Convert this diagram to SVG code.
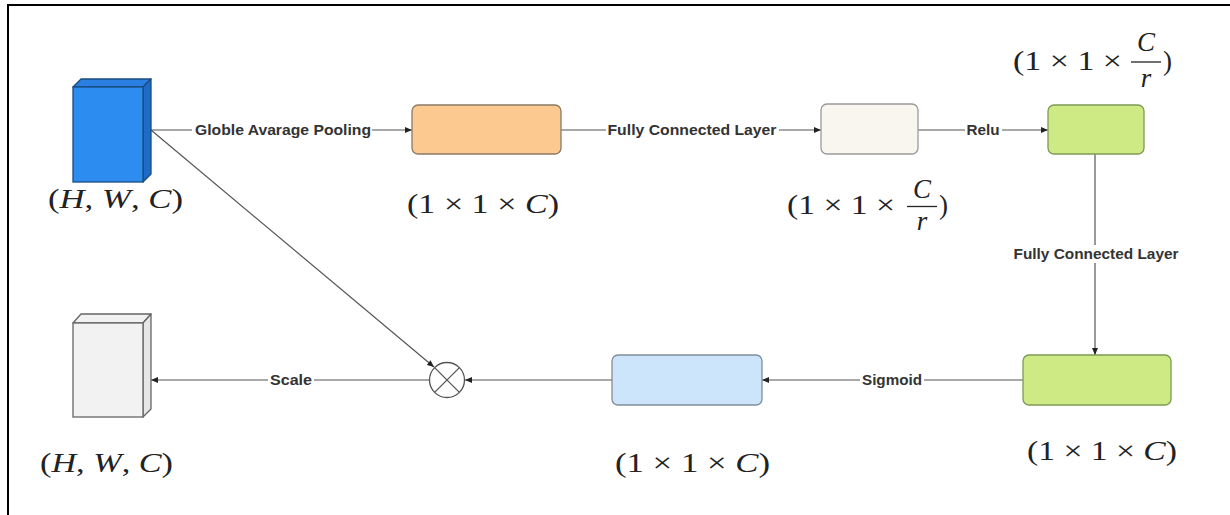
<svg xmlns="http://www.w3.org/2000/svg" width="1230" height="515" viewBox="0 0 1230 515">
<defs>
<marker id="arr" markerUnits="userSpaceOnUse" markerWidth="8" markerHeight="7" refX="7" refY="3.5" orient="auto">
<path d="M0,0.5 L7,3.5 L0,6.5 z" fill="#222"/>
</marker>
<style>
.edge{stroke:#555;stroke-width:1.2;fill:none}
.lbl{font-family:"Liberation Sans",Arial,sans-serif;font-weight:bold;font-size:14px;fill:#333;text-anchor:middle}
.lblbg{fill:#fff}
.math{font-family:"Liberation Serif","Times New Roman",serif;font-size:27px;fill:#222}
.it{font-style:italic}
.box{stroke-width:1.3}
</style>
</defs>
<rect x="0" y="0" width="1230" height="515" fill="#fff"/>
<g id="frame">
<line x1="7" y1="5" x2="1230" y2="5" stroke="#000" stroke-width="2"/>
<line x1="8" y1="4" x2="8" y2="515" stroke="#000" stroke-width="2"/>
</g>

<g id="connectors">
<line class="edge" x1="151" y1="130" x2="412" y2="130" marker-end="url(#arr)"/>
<line class="edge" x1="561" y1="130" x2="821" y2="130" marker-end="url(#arr)"/>
<line class="edge" x1="918" y1="130" x2="1048" y2="130" marker-end="url(#arr)"/>
<line class="edge" x1="1095" y1="154" x2="1095" y2="355" marker-end="url(#arr)"/>
<line class="edge" x1="1023" y1="380" x2="762" y2="380" marker-end="url(#arr)"/>
<line class="edge" x1="612" y1="380" x2="465" y2="380" marker-end="url(#arr)"/>
<line class="edge" x1="429" y1="380" x2="151" y2="380" marker-end="url(#arr)"/>
<line class="edge" x1="151" y1="130" x2="434" y2="367" marker-end="url(#arr)"/>
<g id="edge-labels">
<rect class="lblbg" x="192" y="121" width="180" height="18"/>
<text class="lbl" x="283" y="135" textLength="176" lengthAdjust="spacingAndGlyphs">Globle Avarage Pooling</text>
<rect class="lblbg" x="606" y="121" width="173" height="18"/>
<text class="lbl" x="692" y="135" textLength="169" lengthAdjust="spacingAndGlyphs">Fully Connected Layer</text>
<rect class="lblbg" x="965" y="121" width="37" height="18"/>
<text class="lbl" x="983" y="135" textLength="33" lengthAdjust="spacingAndGlyphs">Relu</text>
<rect class="lblbg" x="1011" y="245" width="170" height="18"/>
<text class="lbl" x="1096" y="259" textLength="165" lengthAdjust="spacingAndGlyphs">Fully Connected Layer</text>
<rect class="lblbg" x="860" y="371" width="64" height="18"/>
<text class="lbl" x="892" y="385" textLength="60" lengthAdjust="spacingAndGlyphs">Sigmoid</text>
<rect class="lblbg" x="268" y="371" width="46" height="18"/>
<text class="lbl" x="291" y="385" textLength="42" lengthAdjust="spacingAndGlyphs">Scale</text>
</g>
</g>

<g id="input-cube">
<polygon points="73,87 81,79 151,79 143,87" fill="#2a7fe0" stroke="#1a4c80" stroke-width="1.3" stroke-linejoin="round"/>
<polygon points="143,87 151,79 151,174 143,182" fill="#1f6cc8" stroke="#1a4c80" stroke-width="1.3" stroke-linejoin="round"/>
<rect x="73" y="87" width="70" height="95" fill="#2d8cf0" stroke="#1a4c80" stroke-width="1.3"/>
<text class="math" x="48" y="208" textLength="135" lengthAdjust="spacingAndGlyphs">(<tspan class="it">H</tspan>, <tspan class="it">W</tspan>, <tspan class="it">C</tspan>)</text>
</g>

<g id="pool-box">
<rect class="box" x="412" y="105" width="149" height="49" rx="6" fill="#fcc991" stroke="#8c7a66"/>
<text class="math" x="407" y="213" textLength="152" lengthAdjust="spacingAndGlyphs">(1 × 1 × <tspan class="it">C</tspan>)</text>
</g>

<g id="fc1-box">
<rect class="box" x="821" y="104" width="97" height="50" rx="6" fill="#f8f6ee" stroke="#9a9a9a"/>
<text class="math" x="787" y="214" textLength="108" lengthAdjust="spacingAndGlyphs">(1 × 1 ×</text>
<text class="math it" x="922" y="198" text-anchor="middle">C</text>
<line x1="907" y1="206.5" x2="937" y2="206.5" stroke="#222" stroke-width="1.3"/>
<text class="math it" x="922" y="230" text-anchor="middle">r</text>
<text class="math" x="939" y="214">)</text>
</g>

<g id="relu-box">
<rect class="box" x="1048" y="105" width="96" height="49" rx="6" fill="#cdea84" stroke="#7d9a55"/>
<text class="math" x="1013" y="70" textLength="109" lengthAdjust="spacingAndGlyphs">(1 × 1 ×</text>
<text class="math it" x="1146" y="51" text-anchor="middle">C</text>
<line x1="1131" y1="62" x2="1161" y2="62" stroke="#222" stroke-width="1.3"/>
<text class="math it" x="1146" y="87" text-anchor="middle">r</text>
<text class="math" x="1163" y="70">)</text>
</g>

<g id="fc2-box">
<rect class="box" x="1023" y="355" width="148" height="50" rx="6" fill="#cdea84" stroke="#7d9a55"/>
<text class="math" x="1027" y="460" textLength="150" lengthAdjust="spacingAndGlyphs">(1 × 1 × <tspan class="it">C</tspan>)</text>
</g>

<g id="sigmoid-box">
<rect class="box" x="612" y="355" width="150" height="50" rx="6" fill="#cce5fb" stroke="#7f8d9c"/>
<text class="math" x="615" y="472" textLength="155" lengthAdjust="spacingAndGlyphs">(1 × 1 × <tspan class="it">C</tspan>)</text>
</g>

<g id="multiply">
<circle cx="447" cy="380" r="17.5" fill="#fff" stroke="#555" stroke-width="1.3"/>
<line x1="434.6" y1="367.6" x2="459.4" y2="392.4" stroke="#555" stroke-width="1.3"/>
<line x1="459.4" y1="367.6" x2="434.6" y2="392.4" stroke="#555" stroke-width="1.3"/>
</g>

<g id="output-cube">
<polygon points="73,323 81,314 151,314 143,323" fill="#f2f2f2" stroke="#666" stroke-width="1.3" stroke-linejoin="round"/>
<polygon points="143,323 151,314 151,409 143,417" fill="#e6e6e6" stroke="#666" stroke-width="1.3" stroke-linejoin="round"/>
<rect x="73" y="323" width="70" height="94" fill="#f2f2f2" stroke="#666" stroke-width="1.3"/>
<text class="math" x="40" y="472" textLength="133" lengthAdjust="spacingAndGlyphs">(<tspan class="it">H</tspan>, <tspan class="it">W</tspan>, <tspan class="it">C</tspan>)</text>
</g>
</svg>
